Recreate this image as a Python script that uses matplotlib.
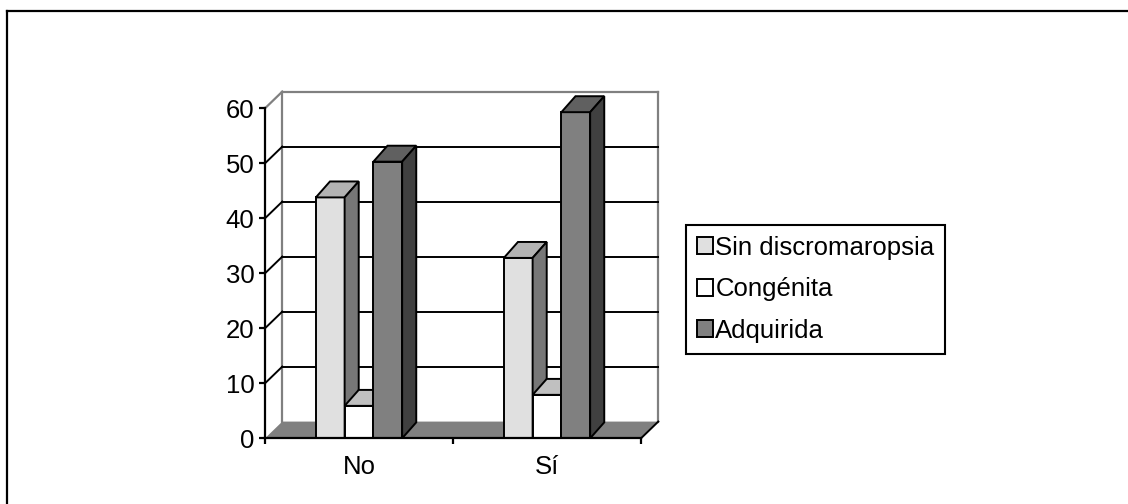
import matplotlib
matplotlib.use("Agg")
import matplotlib.pyplot as plt
from matplotlib.patches import Polygon
from matplotlib.lines import Line2D

plt.rcParams['font.family'] = ['Liberation Sans', 'DejaVu Sans']

# data: percentage per group
categories = ["No", "Sí"]
series_names = ["Sin discromaropsia", "Congénita", "Adquirida"]
sin_discromaropsia = [43.8, 32.8]
congenita = [5.9, 7.9]
adquirida = [50.3, 59.3]
y_ticks = [0, 10, 20, 30, 40, 50, 60]

values = [sin_discromaropsia, congenita, adquirida]
front_colors = ["#E0E0E0", "#FFFFFF", "#808080"]
top_colors = ["#B3B3B3", "#C0C0C0", "#606060"]
side_colors = ["#777777", "#A0A0A0", "#404040"]

# oblique offsets (data units) for the fake 3d look
WALL_DX, WALL_DY = 0.092, 3.04
BAR_DX, BAR_DY = 0.075, 2.9
BAR_W = 0.153
YMAX = 60
LW = 1.4
FS = 18.5

fig = plt.figure(figsize=(11.28, 5.04), dpi=100)
ax = fig.add_axes([265 / 1128, 1 - 438.3 / 504, 393.3 / 1128, 346.7 / 504])
ax.set_xlim(0, len(categories) + WALL_DX)
ax.set_ylim(0, YMAX + WALL_DY)
ax.patch.set_visible(False)

n = len(categories)

# floor
floor = Polygon([(0, 0), (n, 0), (n + WALL_DX, WALL_DY), (WALL_DX, WALL_DY)],
                closed=True, facecolor="#808080", edgecolor="none", zorder=1, clip_on=False)
ax.add_patch(floor)
ax.plot([n, n + WALL_DX], [0, WALL_DY], color="black", lw=LW, zorder=1.5, clip_on=False)

# back wall outline
wall_kw = dict(color="#808080", lw=LW + 0.2, zorder=1.2, clip_on=False)
ax.plot([WALL_DX, WALL_DX], [WALL_DY, YMAX + WALL_DY], **wall_kw)
ax.plot([n + WALL_DX, n + WALL_DX], [WALL_DY, YMAX + WALL_DY], **wall_kw)
ax.plot([WALL_DX, n + WALL_DX], [YMAX + WALL_DY, YMAX + WALL_DY], **wall_kw)
ax.plot([0, WALL_DX], [YMAX, YMAX + WALL_DY], **wall_kw)

# gridlines on the back wall plus the short diagonals on the side wall
for v in y_ticks[1:-1]:
    ax.plot([WALL_DX, n + WALL_DX], [v + WALL_DY, v + WALL_DY], color="black", lw=LW,
            zorder=1.3, clip_on=False)
    ax.plot([0, WALL_DX], [v, v + WALL_DY], color="black", lw=LW, zorder=1.3, clip_on=False)

# bars: front face from ax.bar, top and side faces as polygons
handles = []
for k, (vals, name) in enumerate(zip(values, series_names)):
    xs = [i + 0.5 + (k - 1) * BAR_W for i in range(n)]
    z = 3 + k * 0.1
    bars = ax.bar(xs, vals, width=BAR_W, color=front_colors[k], edgecolor="black",
                  linewidth=LW, label=name, zorder=z, clip_on=False)
    handles.append(bars)
    for x, v in zip(xs, vals):
        x0, x1 = x - BAR_W / 2, x + BAR_W / 2
        top = Polygon([(x0, v), (x1, v), (x1 + BAR_DX, v + BAR_DY), (x0 + BAR_DX, v + BAR_DY)],
                      closed=True, facecolor=top_colors[k], edgecolor="black",
                      linewidth=LW, zorder=z, clip_on=False)
        side = Polygon([(x1, 0), (x1 + BAR_DX, BAR_DY), (x1 + BAR_DX, v + BAR_DY), (x1, v)],
                       closed=True, facecolor=side_colors[k], edgecolor="black",
                       linewidth=LW, zorder=z, clip_on=False)
        ax.add_patch(top)
        ax.add_patch(side)

# axes lines and ticks
for s in ["top", "right"]:
    ax.spines[s].set_visible(False)
ax.spines["left"].set_bounds(0, YMAX)
ax.spines["bottom"].set_bounds(0, n)
for s in ["left", "bottom"]:
    ax.spines[s].set_linewidth(LW + 0.2)
    ax.spines[s].set_zorder(5)

ax.set_yticks(y_ticks)
ax.set_yticklabels([str(t) for t in y_ticks], fontsize=FS)
ax.tick_params(axis="y", direction="out", length=4.5, width=LW + 0.2, pad=3)

ax.set_xticks(range(n + 1))
ax.set_xticklabels([])
ax.set_xticks([i + 0.5 for i in range(n)], minor=True)
ax.set_xticklabels(categories, minor=True, fontsize=FS)
ax.tick_params(axis="x", which="major", direction="out", length=4.5, width=LW + 0.2)
ax.tick_params(axis="x", which="minor", length=0, pad=12)

leg = ax.legend(handles=handles, loc="upper left", bbox_to_anchor=(686 / 1128, 1 - 225 / 504),
                bbox_transform=fig.transFigure, borderaxespad=0, fontsize=FS,
                handlelength=0.62, handleheight=0.62, handletextpad=0.1,
                labelspacing=0.68, borderpad=0.42, fancybox=False, framealpha=1,
                edgecolor="black")
leg.get_frame().set_linewidth(1.5)

# outer frame (left and top edges)
fx, fy = 7.3 / 1128, 1 - 11 / 504
fig.add_artist(Line2D([fx, fx], [0, fy], transform=fig.transFigure, color="black", lw=1.6))
fig.add_artist(Line2D([fx, 1], [fy, fy], transform=fig.transFigure, color="black", lw=1.6))

fig.savefig("out.png", dpi=100)
